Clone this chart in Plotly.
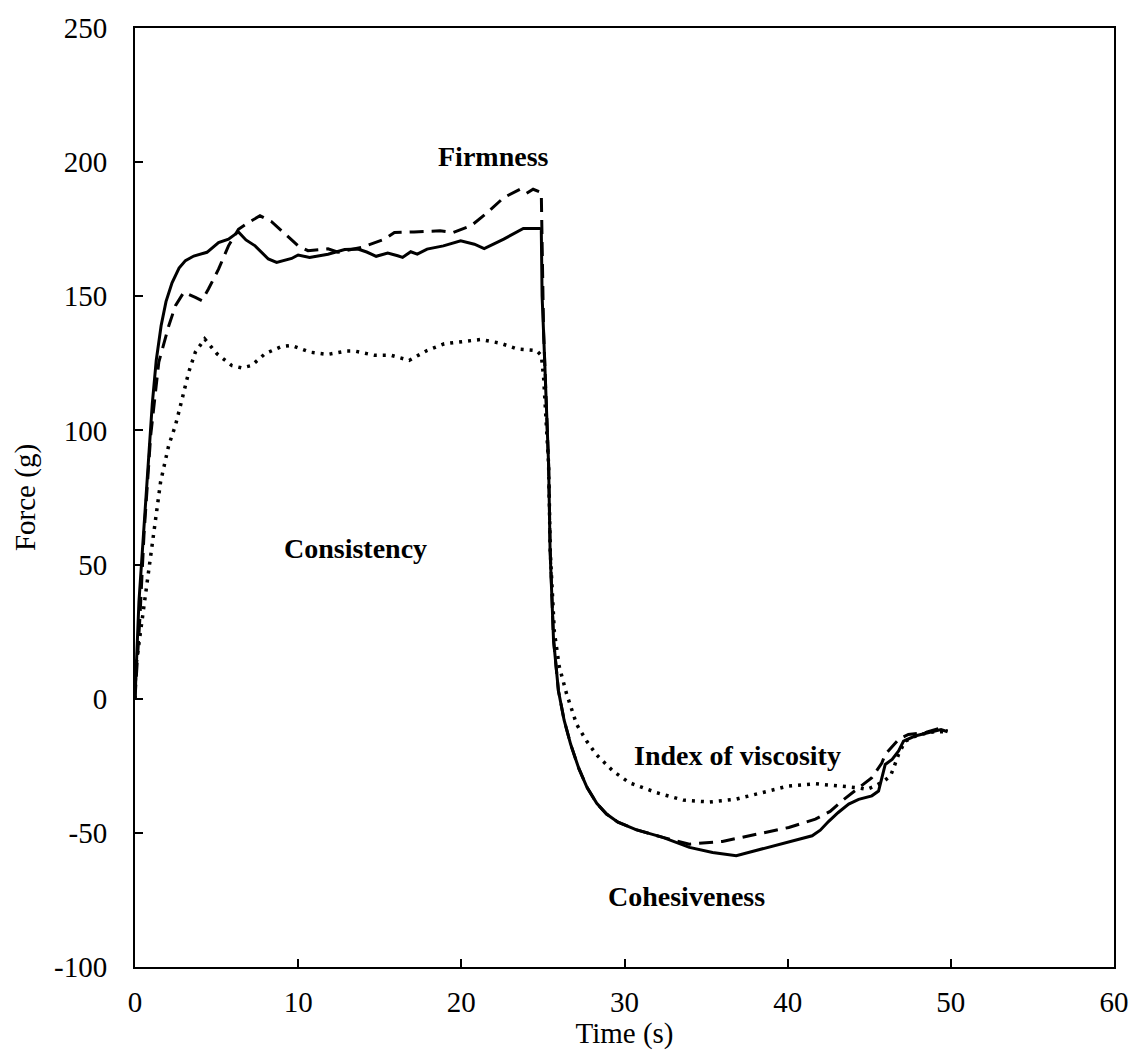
import plotly.graph_objects as go

# ---- data ----
solid_t = [0, 0.24, 0.65, 1.06, 1.3, 1.6, 1.9, 2.27, 2.7, 3.09, 3.6, 4.41, 5.12, 5.73, 6.34, 6.8,
           7.36, 8.17, 8.68, 9.6, 10.0, 10.7, 11.83, 12.85, 13.66, 14.2, 14.78, 15.49, 16.1,
           16.4, 16.9, 17.3, 17.9, 18.9, 19.96, 20.8, 21.4, 22.6, 23.8, 24.8, 24.9, 24.95,
           25.04, 25.35, 25.44, 25.65, 25.95, 26.3, 26.7, 27.2, 27.7, 28.3, 28.9, 29.6, 30.7,
           32.35, 33.98, 35.4, 36.85, 38.45, 40.07, 41.5, 42.0, 42.5, 43.1, 43.74, 44.35, 45.16,
           45.57, 45.98, 46.4, 46.8, 47.1, 47.8, 48.6, 49.4, 49.8]
solid_f = [0, 36, 73, 110, 126, 139, 148, 155, 160.5, 163.3, 165, 166.4, 170, 171.3, 174, 171,
           168.8, 163.9, 162.6, 164.1, 165.4, 164.5, 165.7, 167.4, 167.6, 166.5, 164.9, 166.1,
           165.1, 164.5, 166.6, 165.7, 167.6, 168.8, 170.7, 169.4, 167.8, 171.3, 175.3, 175.3,
           175, 150, 136.6, 87, 55, 22, 3, -8, -17, -26, -33, -39, -43, -46, -48.8,
           -51.7, -55.4, -57.3, -58.5, -56, -53.6, -51.1, -49, -45.8, -42.4, -39.3, -37.5, -36.2,
           -34.4, -24.5, -22.6, -19.5, -15.8, -13.9, -12.7, -11.5, -12.3]

dash_t = [0, 0.3, 0.55, 0.96, 1.46, 2.07, 2.48, 2.99, 3.7, 4.1, 4.5, 5.12, 5.73, 6.34, 6.95,
          7.66, 8.37, 9.09, 10.0, 10.6, 11.83, 12.44, 13.86, 15.3, 15.9, 17.1, 18.7, 19.5,
          20.6, 21.6, 22.6, 23.6, 24.0, 24.4, 24.9, 24.95, 25.04, 25.35, 25.45, 25.65, 25.95,
          26.3, 26.7, 27.2, 27.7, 28.3, 28.9, 29.6, 30.7, 32.35, 33.98, 36.0, 38.05, 40.07,
          41.7, 42.6, 43.35, 44.35, 44.97, 45.16, 45.77, 45.98, 46.8, 47.4, 48.5, 49.3, 49.8]
dash_f = [0, 30, 61, 98, 125.5, 139, 146.5, 151.5, 149.6, 148.4, 152.7, 160.1, 168.8, 175,
          177.5, 180, 177.8, 173.8, 168.8, 167, 167.7, 166.4, 168.2, 171.3, 173.8, 174, 174.4,
          173.8, 176.3, 181.2, 186.8, 189.9, 188.4, 189.9, 188.7, 170, 137, 87, 55, 22, 3,
          -8, -17, -26, -33, -39, -43, -46, -48.8, -51.7, -54.2, -53.2, -50.5, -48,
          -44.9, -42, -38, -33.2, -30, -29.4, -24, -20.7, -15.2, -13.3, -12.5, -11, -12]

dot_t = [0, 0.04, 0.45, 0.85, 1.26, 1.57, 2.07, 2.48, 2.89, 3.29, 3.7, 4.27, 5.02, 5.93, 6.54,
         7.15, 7.97, 8.99, 9.6, 10.7, 11.8, 12.95, 13.45, 14.68, 15.7, 16.8, 17.9, 18.95,
         20.2, 21.2, 22.4, 23.4, 24.6, 24.9, 25.04, 25.35, 25.45, 25.7, 26.0, 26.46, 27.07,
         27.68, 28.3, 29.3, 30.3, 31.95, 33.6, 35.2, 36.8, 38.45, 40.07, 41.7, 43.3, 44.35,
         44.85, 45.37, 45.9, 46.3, 46.5, 46.8, 47.2, 48.0, 49.0, 49.8]
dot_f = [0, 11.4, 30, 48.6, 66, 80.9, 94.5, 101.9, 111.8, 121.7, 129.2, 134.1, 128.6, 124.2,
         123.3, 124.2, 128.6, 131.3, 131.7, 129.2, 128.3, 129.6, 129.6, 128, 128, 126.1, 129.8,
         132.3, 133.2, 133.9, 132.5, 130.4, 129.8, 128, 120, 87, 55, 25, 12, 1.6, -9.6, -15.8,
         -21, -27, -31.3, -35, -37.8, -38.5, -37.5, -35, -32.5, -31.7, -32.5, -33.2, -33.8,
         -32.5, -30.7, -28.8, -25.7, -20.7, -15.8, -13.5, -12.3, -12.3]

x_ticks = [0, 10, 20, 30, 40, 50, 60]
x_ticktext = ["0", "10", "20", "30", "40", "50", "60"]
y_ticks = [-100, -50, 0, 50, 100, 150, 200, 250]
y_ticktext = ["-100", "-50", "0", "50", "100", "150", "200", "250"]

labels = ["Firmness", "Consistency", "Index of viscosity", "Cohesiveness"]
label_t = [21.97, 13.5, 36.9, 33.8]
label_f = [202, 56, -21, -73.7]

FONT = "Liberation Serif, Times New Roman, serif"

fig = go.Figure()
fig.add_trace(go.Scatter(x=dot_t, y=dot_f, mode="lines", name="Sample 3",
                         line=dict(color="black", width=3.5, dash="3px,6px")))
fig.add_trace(go.Scatter(x=dash_t, y=dash_f, mode="lines", name="Sample 2",
                         line=dict(color="black", width=3, dash="14px,8px")))
fig.add_trace(go.Scatter(x=solid_t, y=solid_f, mode="lines", name="Sample 1",
                         line=dict(color="black", width=3)))

for txt, tx, fy in zip(labels, label_t, label_f):
    fig.add_annotation(x=tx, y=fy, text="<b>" + txt + "</b>", showarrow=False,
                       font=dict(family=FONT, size=28, color="black"),
                       xanchor="center", yanchor="middle")

axis_common = dict(showgrid=False, zeroline=False, showline=True, mirror=True,
                   linecolor="black", linewidth=2, ticks="inside", ticklen=8,
                   tickwidth=2, tickcolor="black",
                   tickfont=dict(family=FONT, size=29, color="black"))

fig.update_layout(
    width=1141, height=1050,
    margin=dict(l=135, r=19, t=25, b=82),
    paper_bgcolor="white", plot_bgcolor="white",
    showlegend=False,
    font=dict(family=FONT, color="black"),
    xaxis=dict(range=[0, 60], tickmode="array", tickvals=x_ticks, ticktext=x_ticktext,
               title=dict(text="Time (s)", font=dict(family=FONT, size=29), standoff=0),
               ticklabelstandoff=8, **axis_common),
    yaxis=dict(range=[-100, 250], tickmode="array", tickvals=y_ticks, ticktext=y_ticktext,
               title=dict(text="Force (g)", font=dict(family=FONT, size=29), standoff=10),
               ticklabelstandoff=20, **axis_common),
)

fig.write_html("out.html")
